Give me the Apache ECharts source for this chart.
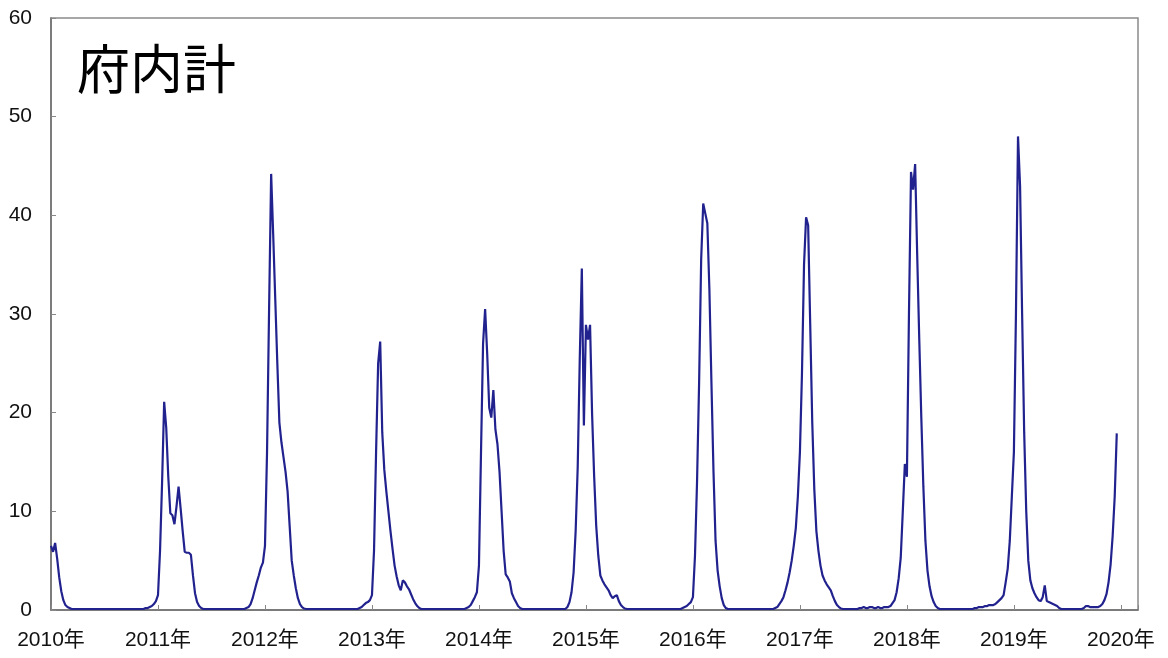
<!DOCTYPE html>
<html>
<head>
<meta charset="utf-8">
<title>府内計</title>
<script src="https://cdn.jsdelivr.net/npm/echarts@6/dist/echarts.min.js"></script>
<style>
  html, body { margin: 0; padding: 0; background: #fff; }
</style>
</head>
<body>
<div id="main" style="width: 1168px; height: 658px"></div>
<script>
// weekly values per year (week 1 .. week 52)
var w2010 = [
  6.5, 5.9, 6.8, 5.2, 3.3, 1.9, 1.0, 0.5, 0.3, 0.2, 0.1, 0.1, 0.1,
  0.1, 0.1, 0.1, 0.1, 0.1, 0.1, 0.1, 0.1, 0.1, 0.1, 0.1, 0.1, 0.1,
  0.1, 0.1, 0.1, 0.1, 0.1, 0.1, 0.1, 0.1, 0.1, 0.1, 0.1, 0.1, 0.1,
  0.1, 0.1, 0.1, 0.1, 0.1, 0.1, 0.1, 0.2, 0.2, 0.3, 0.4, 0.6, 0.9,
];
var w2011 = [
  1.5, 6.0, 13.0, 21.1, 18.5, 13.5, 9.8, 9.6, 8.7, 10.5, 12.5, 10.3, 8.0,
  5.9, 5.8, 5.8, 5.6, 3.5, 1.7, 0.8, 0.4, 0.2, 0.1, 0.1, 0.1, 0.1,
  0.1, 0.1, 0.1, 0.1, 0.1, 0.1, 0.1, 0.1, 0.1, 0.1, 0.1, 0.1, 0.1,
  0.1, 0.1, 0.1, 0.1, 0.2, 0.3, 0.6, 1.2, 2.0, 2.8, 3.5, 4.3, 4.8,
];
var w2012 = [
  6.5, 16.0, 30.5, 44.2, 38.0, 31.5, 25.0, 19.0, 17.0, 15.5, 14.0, 12.0, 8.5,
  5.0, 3.5, 2.2, 1.2, 0.6, 0.3, 0.15, 0.1, 0.1, 0.1, 0.1, 0.1, 0.1,
  0.1, 0.1, 0.1, 0.1, 0.1, 0.1, 0.1, 0.1, 0.1, 0.1, 0.1, 0.1, 0.1,
  0.1, 0.1, 0.1, 0.1, 0.1, 0.1, 0.1, 0.2, 0.3, 0.5, 0.7, 0.8, 1.0,
];
var w2013 = [
  1.5, 6.0, 16.0, 25.0, 27.2, 18.0, 14.2, 12.0, 10.0, 8.0, 6.2, 4.5, 3.4,
  2.5, 2.0, 3.0, 2.8, 2.4, 2.1, 1.6, 1.1, 0.7, 0.4, 0.2, 0.1, 0.1,
  0.1, 0.1, 0.1, 0.1, 0.1, 0.1, 0.1, 0.1, 0.1, 0.1, 0.1, 0.1, 0.1,
  0.1, 0.1, 0.1, 0.1, 0.1, 0.1, 0.1, 0.2, 0.3, 0.5, 0.9, 1.3, 1.8,
];
var w2014 = [
  4.5, 16.0, 27.0, 30.5, 26.0, 20.5, 19.5, 22.3, 18.3, 16.8, 14.0, 10.0, 6.0,
  3.6, 3.3, 2.9, 1.7, 1.2, 0.8, 0.4, 0.2, 0.1, 0.1, 0.1, 0.1, 0.1,
  0.1, 0.1, 0.1, 0.1, 0.1, 0.1, 0.1, 0.1, 0.1, 0.1, 0.1, 0.1, 0.1,
  0.1, 0.1, 0.1, 0.1, 0.3, 0.8, 1.8, 3.8, 8.0, 14.5, 25.5, 34.6, 18.7,
];
var w2015 = [
  28.9, 27.4, 28.9, 19.8, 13.5, 8.5, 5.5, 3.5, 3.0, 2.6, 2.3, 2.0, 1.5,
  1.2, 1.4, 1.5, 0.9, 0.5, 0.3, 0.15, 0.1, 0.1, 0.1, 0.1, 0.1, 0.1,
  0.1, 0.1, 0.1, 0.1, 0.1, 0.1, 0.1, 0.1, 0.1, 0.1, 0.1, 0.1, 0.1,
  0.1, 0.1, 0.1, 0.1, 0.1, 0.1, 0.1, 0.1, 0.2, 0.3, 0.4, 0.6, 0.8,
];
var w2016 = [
  1.3, 5.5, 13.0, 23.0, 35.5, 41.2, 40.2, 39.2, 32.5, 23.0, 14.0, 7.0, 4.0,
  2.4, 1.2, 0.5, 0.2, 0.1, 0.1, 0.1, 0.1, 0.1, 0.1, 0.1, 0.1, 0.1,
  0.1, 0.1, 0.1, 0.1, 0.1, 0.1, 0.1, 0.1, 0.1, 0.1, 0.1, 0.1, 0.1,
  0.1, 0.2, 0.3, 0.6, 0.9, 1.3, 2.0, 2.8, 3.8, 5.0, 6.5, 8.3, 11.5,
];
var w2017 = [
  16.0, 24.0, 35.0, 39.8, 39.0, 29.0, 19.0, 12.2, 8.0, 6.0, 4.5, 3.5, 3.0,
  2.6, 2.3, 2.0, 1.4, 0.9, 0.5, 0.3, 0.15, 0.1, 0.1, 0.1, 0.1, 0.1,
  0.1, 0.1, 0.1, 0.2, 0.2, 0.3, 0.2, 0.2, 0.3, 0.3, 0.2, 0.2, 0.3,
  0.2, 0.2, 0.3, 0.3, 0.3, 0.4, 0.7, 1.0, 1.8, 3.2, 5.3, 10.0, 14.8,
];
var w2018 = [
  13.5, 30.0, 44.4, 42.6, 45.2, 36.0, 27.5, 19.5, 12.5, 7.0, 4.0, 2.4, 1.4,
  0.8, 0.4, 0.2, 0.1, 0.1, 0.1, 0.1, 0.1, 0.1, 0.1, 0.1, 0.1, 0.1,
  0.1, 0.1, 0.1, 0.1, 0.1, 0.1, 0.1, 0.2, 0.2, 0.3, 0.3, 0.3, 0.4,
  0.4, 0.5, 0.5, 0.5, 0.6, 0.8, 1.0, 1.2, 1.5, 2.8, 4.2, 7.0, 11.5,
];
var w2019 = [
  16.0, 30.0, 48.0, 43.0, 30.0, 18.0, 10.0, 5.0, 3.0, 2.2, 1.7, 1.3, 1.0,
  0.9, 1.3, 2.5, 0.9, 0.8, 0.7, 0.6, 0.5, 0.4, 0.2, 0.1, 0.1, 0.1,
  0.1, 0.1, 0.1, 0.1, 0.1, 0.1, 0.1, 0.1, 0.2, 0.4, 0.4, 0.3, 0.3,
  0.3, 0.3, 0.3, 0.4, 0.6, 1.0, 1.6, 2.8, 4.6, 7.5, 11.5, 17.9,
];

var years = [2010, 2011, 2012, 2013, 2014, 2015, 2016, 2017, 2018, 2019];
var weekly = [w2010, w2011, w2012, w2013, w2014, w2015, w2016, w2017, w2018, w2019];
var yTicks = [0, 10, 20, 30, 40, 50, 60];

// x = year + week/52
var seriesData = [];
for (var i = 0; i < years.length; i++) {
  for (var j = 0; j < weekly[i].length; j++) {
    seriesData.push([years[i] + j / 52, weekly[i][j]]);
  }
}

var labelFont = "'Liberation Sans', 'Noto Sans CJK JP', sans-serif";

var chart = echarts.init(document.getElementById("main"));
var option = {
  animation: false,
  backgroundColor: "#ffffff",
  title: {
    text: "府内計",
    left: 77,
    top: 42,
    padding: 0,
    textStyle: {
      fontFamily: "'Noto Sans CJK JP', sans-serif",
      fontSize: 53,
      fontWeight: "normal",
      color: "#000",
    },
  },
  grid: {
    left: 51,
    right: 30,
    top: 18,
    bottom: 48,
    show: true,
    borderColor: "#8a8a8a",
    borderWidth: 1.5,
  },
  xAxis: {
    type: "value",
    min: years[0],
    max: 2020.16,
    interval: 1,
    axisLine: { lineStyle: { color: "#6e6e6e", width: 1.5 } },
    axisTick: { inside: true, length: 5, lineStyle: { color: "#888" } },
    splitLine: { show: false },
    axisLabel: {
      margin: 20,
      fontSize: 21,
      fontFamily: labelFont,
      color: "#111",
      formatter: function (v) {
        if (Math.abs(v - Math.round(v)) > 1e-6) return "";
        return Math.round(v) + "年";
      },
    },
  },
  yAxis: {
    type: "value",
    min: yTicks[0],
    max: yTicks[yTicks.length - 1],
    interval: 10,
    axisLine: { show: true, lineStyle: { color: "#6e6e6e", width: 1.5 } },
    axisTick: { show: true, inside: true, length: 5, lineStyle: { color: "#888" } },
    splitLine: { show: false },
    axisLabel: {
      margin: 19,
      fontSize: 21,
      fontFamily: labelFont,
      color: "#111",
    },
  },
  series: [
    {
      name: "府内計",
      type: "line",
      symbol: "none",
      smooth: false,
      lineStyle: { color: "#22228f", width: 2.2 },
      data: seriesData,
    },
  ],
};
chart.setOption(option);
</script>
</body>
</html>
